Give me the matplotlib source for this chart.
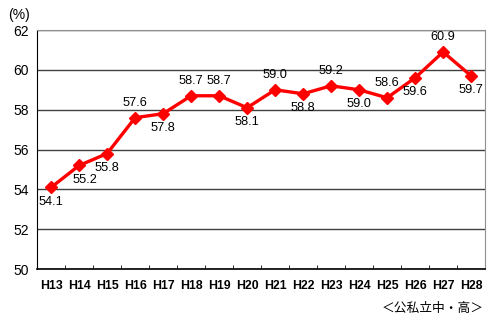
import matplotlib
matplotlib.use("Agg")
import matplotlib.pyplot as plt
from matplotlib.ticker import FixedLocator

plt.rcParams['font.family'] = ['Liberation Sans', 'Noto Sans CJK JP', 'DejaVu Sans']

# data
years = ["H13", "H14", "H15", "H16", "H17", "H18", "H19", "H20",
         "H21", "H22", "H23", "H24", "H25", "H26", "H27", "H28"]
rates = [54.1, 55.2, 55.8, 57.6, 57.8, 58.7, 58.7, 58.1,
         59.0, 58.8, 59.2, 59.0, 58.6, 59.6, 60.9, 59.7]
label_pos = ["below", "below", "below", "above", "below", "above", "above", "below",
             "above", "below", "above", "below", "above", "below", "above", "below"]
yticks = [50, 52, 54, 56, 58, 60, 62]

fig = plt.figure(figsize=(4.95, 3.23), dpi=100)
ax = fig.add_axes([0.075, 0.167, 0.905, 0.74])

x = list(range(len(years)))
ax.plot(x, rates, color="#ff0000", lw=2.4, marker="D", ms=6, zorder=3)

for xi, v, pos in zip(x, rates, label_pos):
    off = 10.5 if pos == "above" else -10.5
    dx = 4 if xi == 1 else 0
    ax.annotate(f"{v:.1f}", (xi, v), xytext=(dx, off), textcoords="offset points",
                ha="center", va="center", fontsize=9.2)

ax.set_xlim(-0.5, len(years) - 0.5)
ax.set_ylim(50, 62)
ax.set_yticks(yticks)
ax.set_yticklabels([str(t) for t in yticks], fontsize=10)
ax.set_xticks(x)
ax.set_xticklabels(years, fontsize=8.8, fontweight="bold",
                   family=['Liberation Sans Narrow', 'Liberation Sans'])
ax.tick_params(axis="x", length=0, pad=8)
ax.tick_params(axis="y", length=0, pad=6)
# small tick marks between categories, pointing up
ax.xaxis.set_minor_locator(FixedLocator([i + 0.5 for i in range(len(years) - 1)]))
ax.tick_params(axis="x", which="minor", direction="in", length=3, color="black")

ax.grid(axis="y", color="#404040", lw=1.0)
ax.set_axisbelow(True)
for side in ["top", "right"]:
    ax.spines[side].set_color("#909090")
ax.spines["left"].set_color("black")
ax.spines["bottom"].set_color("black")
ax.spines["bottom"].set_linewidth(1.2)

fig.text(0.016, 0.955, "(%)", fontsize=10, ha="left", va="center")
fig.text(0.978, 0.045, "＜公私立中・高＞", fontsize=9.2, ha="right", va="center",
         family=['Noto Sans CJK JP', 'DejaVu Sans'])

fig.savefig("out.png", dpi=100)
